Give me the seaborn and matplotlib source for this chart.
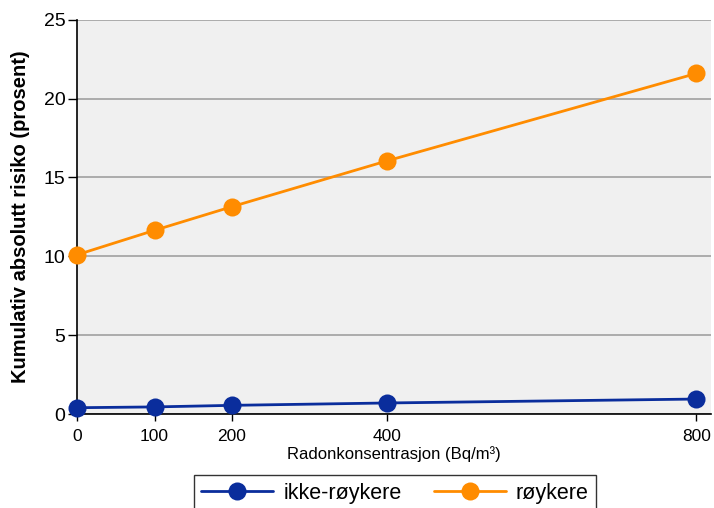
import matplotlib
matplotlib.use("Agg")
import matplotlib.pyplot as plt
import seaborn as sns
import pandas as pd

# Radon concentration (Bq/m3) and cumulative absolute risk (%)
radon = [0, 100, 200, 400, 800]
ikke_roykere = [0.4, 0.45, 0.55, 0.7, 0.95]
roykere = [10.1, 11.65, 13.15, 16.05, 21.6]
series_names = ["ikke-røykere", "røykere"]
colors = ["#0a2d9c", "#ff8c00"]

df = pd.DataFrame({
    "radon": radon * 2,
    "risk": ikke_roykere + roykere,
    "gruppe": [series_names[0]] * len(radon) + [series_names[1]] * len(radon),
})

sns.set_style("white")
plt.rcParams["font.family"] = ["Liberation Sans", "DejaVu Sans"]
# plain black text like the original
for key in ["text.color", "axes.labelcolor", "xtick.color", "ytick.color"]:
    plt.rcParams[key] = "black"

fig = plt.figure(figsize=(7.14, 5.08), dpi=100)
ax = fig.add_axes([0.108, 0.185, 0.888, 0.776])
ax.set_facecolor("#f0f0f0")

sns.lineplot(data=df, x="radon", y="risk", hue="gruppe", palette=colors,
             marker="o", markersize=13, markeredgewidth=0, linewidth=2,
             ax=ax, legend=False, clip_on=False, zorder=3)

ax.set_xlim(0, 819)
ax.set_ylim(0, 25)
ax.set_xticks(radon)
ax.set_yticks(range(0, 26, 5))
ax.yaxis.grid(True, color="#a0a0a0", linewidth=1.2)
ax.set_axisbelow(True)
for s in ["top", "right"]:
    ax.spines[s].set_visible(False)
for s in ["left", "bottom"]:
    ax.spines[s].set_color("black")
    ax.spines[s].set_linewidth(1.2)
ax.tick_params(axis="x", bottom=True, direction="out", length=5, width=1,
               color="black", labelcolor="black", labelsize=12.5, pad=6)
ax.tick_params(axis="y", left=True, direction="out", length=6.5, width=1,
               color="black", labelcolor="black", labelsize=14, pad=2)

ax.set_xlabel("Radonkonsentrasjon (Bq/m³)", fontsize=12, labelpad=1,
              color="black")
ax.set_ylabel("Kumulativ absolutt risiko (prosent)", fontsize=14.5,
              fontweight="bold", color="black")
ax.yaxis.set_label_coords(-0.074, 0.5)

handles = [plt.Line2D([], [], color=c, marker="o", markersize=13,
                      markeredgewidth=0, linewidth=2) for c in colors]
leg = fig.legend(handles, series_names, loc="upper center",
                 bbox_to_anchor=(0.553, 1 - 475 / 508), ncol=2, fontsize=15.5,
                 frameon=True, fancybox=False, edgecolor="black",
                 handlelength=3.35, handletextpad=0.45, columnspacing=1.5,
                 borderpad=0.35, borderaxespad=0)
leg.get_frame().set_linewidth(1.0)
for t in leg.get_texts():
    t.set_color("black")

fig.savefig("out.png", dpi=100)
